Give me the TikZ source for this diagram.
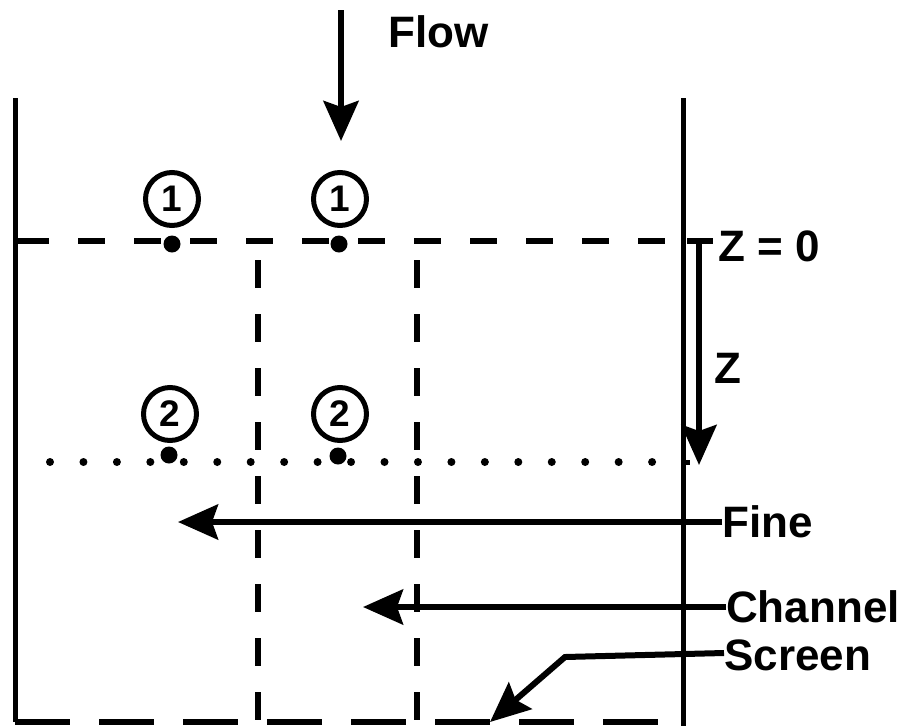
\documentclass[tikz,border=0pt]{standalone}
\usepackage{fontspec}
\setmainfont{Liberation Sans}
\usetikzlibrary{arrows.meta}
\tikzset{
  wall/.style={line width=5pt},
  topdash/.style={line width=6pt, dash pattern=on 27pt off 29pt, dash phase=49pt},
  vdash/.style={line width=5.5pt, dash pattern=on 28pt off 26pt},
  botdash/.style={line width=6pt, dash pattern=on 55pt off 29pt},
  dotline/.style={line width=8pt, line cap=round, dash pattern=on 0pt off 33.45pt},
  bigarrow/.style={line width=6pt, -{Stealth[length=40pt,width=35pt,inset=6pt]}},
  lab/.style={font=\fontsize{44}{44}\selectfont\bfseries, inner sep=0pt, anchor=west},
  circnum/.style={circle, draw, line width=5pt, minimum size=53pt, inner sep=0pt,
    font=\fontsize{37}{37}\selectfont\bfseries},
  mark dot/.style={circle, fill, inner sep=0pt, minimum width=17pt, minimum height=14pt}
}
\begin{document}
\begin{tikzpicture}[x=1pt,y=-1pt]
\useasboundingbox (0,0) rectangle (909,726);
% walls
\coordinate (LT) at (15,98);
\coordinate (LB) at (15,722);
\coordinate (RT) at (683,98);
\coordinate (RB) at (683,726);
\draw[wall] (LT) -- (LB);
\draw[wall] (RT) -- (RB);
% bottom screen (dashed)
\coordinate (B2) at (683,722);
\draw[botdash] (LB) -- (B2);
% top dashed line z=0
\coordinate (T0) at (15,241);
\coordinate (T1) at (24,241);
\coordinate (T2) at (668,241);
\draw[line width=6pt] (T0) -- (T1);
\draw[topdash] (T0) -- (T2);
% vertical dashed lines
\coordinate (V1a) at (258,260);
\coordinate (V1b) at (258,722);
\coordinate (V2a) at (417,260);
\coordinate (V2b) at (417,722);
\draw[vdash] (V1a) -- (V1b);
\draw[vdash] (V2a) -- (V2b);
% dotted line
\coordinate (D1) at (50,462);
\coordinate (D2) at (655,462);
\draw[dotline] (D1) -- (D2);
\coordinate (Dt1) at (683,462);
\coordinate (Dt2) at (690,462);
\draw[line width=5pt] (Dt1) -- (Dt2);
% markers 1
\node[circnum] (c1a) at (172,199) {1};
\node[circnum] (c1b) at (340,199) {1};
\node[mark dot] (d1a) at (172,244) {};
\node[mark dot] (d1b) at (339,244) {};
% markers 2
\node[circnum] (c2a) at (170,414) {2};
\node[circnum] (c2b) at (340,414) {2};
\node[mark dot] (d2a) at (169,455) {};
\node[mark dot] (d2b) at (338,456) {};
% flow arrow
\coordinate (F1) at (341,10);
\coordinate (F2) at (341,141);
\draw[bigarrow] (F1) -- (F2);
\node[lab] (flow) at (388,32) {Flow};
% z axis
\coordinate (Ta) at (687,241);
\coordinate (Tb) at (713,241);
\coordinate (Z1) at (699,241);
\coordinate (Z2) at (699,465);
\draw[line width=6pt] (Ta) -- (Tb);
\draw[bigarrow] (Z1) -- (Z2);
\node[lab] (z0) at (718,246) {Z = 0};
\node[lab] (z) at (714,368) {Z};
% labels with arrows
\node[lab] (fine) at (722,522) {Fine};
\coordinate (fineTip) at (178,522);
\draw[bigarrow] (fine.west) -- (fineTip);
\node[lab] (channel) at (726,607) {Channel};
\coordinate (chanTip) at (363,607);
\draw[bigarrow] (channel.west) -- (chanTip);
\node[lab] (screen) at (724,655) {Screen};
\coordinate (scrBend) at (565,657);
\coordinate (scrTip) at (490,722);
\draw[bigarrow] ([yshift=2pt]screen.west) -- (scrBend) -- (scrTip);
\end{tikzpicture}
\end{document}
